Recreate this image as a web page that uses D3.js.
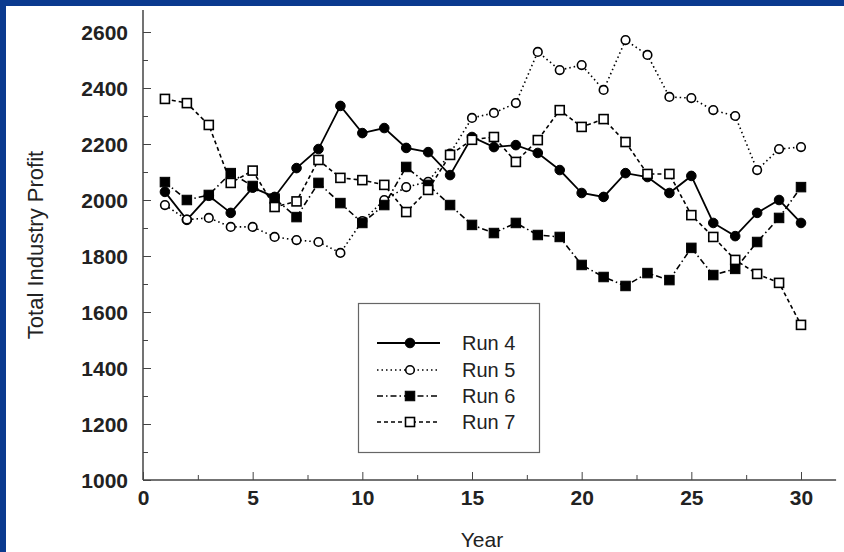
<!DOCTYPE html>
<html>
<head>
<meta charset="utf-8">
<script src="https://cdn.jsdelivr.net/npm/d3@7"></script>
<style>
  html, body { margin: 0; padding: 0; background: #0b3a8f; }
  #chart { width: 844px; height: 552px; }
</style>
</head>
<body>
<div id="chart"></div>
<script>
(function () {
  const years = d3.range(1, 31);
  const run4 = [2029, 1929, 2015, 1954, 2044, 2011, 2114, 2182, 2336, 2239,
                2257, 2186, 2171, 2089, 2225, 2189, 2196, 2168, 2107, 2025,
                2011, 2096, 2082, 2025, 2086, 1918, 1871, 1954, 2000, 1918];
  const run5 = [1982, 1930, 1936, 1904, 1904, 1868, 1857, 1850, 1811, 1925,
                2000, 2046, 2065, 2166, 2293, 2311, 2346, 2529, 2464, 2482,
                2393, 2571, 2518, 2368, 2364, 2321, 2300, 2107, 2182, 2189];
  const run6 = [2064, 2000, 2018, 2096, 2050, 2005, 1939, 2061, 1989, 1918,
                1982, 2118, 2054, 1982, 1911, 1882, 1918, 1875, 1868, 1768,
                1725, 1693, 1739, 1714, 1829, 1732, 1754, 1850, 1936, 2046];
  const run7 = [2361, 2346, 2268, 2061, 2105, 1975, 1995, 2143, 2079, 2071,
                2054, 1957, 2036, 2161, 2215, 2225, 2136, 2214, 2321, 2261,
                2289, 2207, 2093, 2093, 1946, 1868, 1786, 1736, 1704, 1554];
  const seriesNames = ["Run 4", "Run 5", "Run 6", "Run 7"];
  const xTicks = [0, 5, 10, 15, 20, 25, 30];
  const yTicks = [1000, 1200, 1400, 1600, 1800, 2000, 2200, 2400, 2600];

  const W = 844, H = 552;
  const FONT = "'Liberation Sans', Arial, Helvetica, sans-serif";

  const series = [
    { name: seriesNames[0], values: run4, dash: null,        marker: "circle", filled: true },
    { name: seriesNames[1], values: run5, dash: "1.5,3",     marker: "circle", filled: false },
    { name: seriesNames[2], values: run6, dash: "6,3,1.5,3", marker: "square", filled: true },
    { name: seriesNames[3], values: run7, dash: "4,3",       marker: "square", filled: false }
  ];

  const svg = d3.select("#chart").append("svg")
    .attr("width", W).attr("height", H)
    .style("display", "block");

  // white panel inside the blue frame
  svg.append("rect").attr("x", 6).attr("y", 6)
    .attr("width", W - 6).attr("height", H - 6).attr("fill", "#fff");

  const x = d3.scaleLinear().domain([0, 30]).range([143, 801]);
  const y = d3.scaleLinear().domain([1000, 2600]).range([480, 32]);

  const axisColor = "#444";
  const fmt = d3.format("d");

  // y axis
  const gy = svg.append("g").attr("transform", `translate(${x(0)},0)`);
  gy.call(d3.axisLeft(y).tickValues(yTicks).tickFormat(fmt).tickSize(-8).tickPadding(15).tickSizeOuter(0));
  gy.append("g").call(d3.axisLeft(y).tickValues(d3.range(1100, 2700, 200)).tickSize(-5).tickFormat(""));
  gy.selectAll(".domain").remove();
  gy.append("line").attr("y1", y(1000)).attr("y2", y(2679)).attr("stroke", axisColor).attr("stroke-width", 1.5);

  // x axis
  const gx = svg.append("g").attr("transform", `translate(0,${y(1000)})`);
  gx.call(d3.axisBottom(x).tickValues(xTicks).tickFormat(fmt).tickSize(-8).tickPadding(10).tickSizeOuter(0));
  gx.append("g").call(d3.axisBottom(x).tickValues(d3.range(2.5, 31, 5)).tickSize(-5).tickFormat(""));
  gx.selectAll(".domain").remove();
  gx.append("line").attr("x1", x(0)).attr("x2", x(31.6)).attr("stroke", axisColor).attr("stroke-width", 1.5);

  svg.selectAll(".tick line").attr("stroke", axisColor).attr("stroke-width", 1);
  svg.selectAll(".tick text")
    .attr("font-family", FONT).attr("font-size", 21).attr("fill", "#222")
    .style("font-weight", "bold");
  gy.selectAll(".tick text").attr("dy", "0.35em");

  // axis titles
  svg.append("text")
    .attr("transform", `translate(43,245) rotate(-90)`)
    .attr("text-anchor", "middle")
    .attr("font-family", FONT).attr("font-size", 22).attr("fill", "#222")
    .text("Total Industry Profit");
  svg.append("text")
    .attr("x", 482).attr("y", 547)
    .attr("text-anchor", "middle")
    .attr("font-family", FONT).attr("font-size", 21).attr("fill", "#222")
    .text("Year");

  const line = d3.line().x((d, i) => x(years[i])).y(d => y(d));

  function drawMarker(g, type, filled, cx, cy) {
    if (type === "circle") {
      g.append("circle").attr("cx", cx).attr("cy", cy).attr("r", filled ? 4.8 : 4.3)
        .attr("fill", filled ? "#000" : "#fff")
        .attr("stroke", "#000").attr("stroke-width", filled ? 1 : 1.6);
    } else {
      const s = filled ? 9.5 : 9;
      g.append("rect").attr("x", cx - s / 2).attr("y", cy - s / 2)
        .attr("width", s).attr("height", s)
        .attr("fill", filled ? "#000" : "#fff")
        .attr("stroke", "#000").attr("stroke-width", filled ? 1 : 1.6);
    }
  }

  const plot = svg.append("g");
  series.forEach(s => {
    plot.append("path")
      .attr("d", line(s.values))
      .attr("fill", "none").attr("stroke", "#000")
      .attr("stroke-width", s.dash ? 1.6 : 1.8)
      .attr("stroke-dasharray", s.dash);
  });
  series.forEach(s => {
    const g = plot.append("g");
    s.values.forEach((v, i) => drawMarker(g, s.marker, s.filled, x(years[i]), y(v)));
  });

  // legend
  const lg = svg.append("g");
  lg.append("rect").attr("x", 358.5).attr("y", 303.5).attr("width", 181).attr("height", 149)
    .attr("fill", "#fff").attr("stroke", "#666").attr("stroke-width", 1.2);
  const rowY = [343, 370, 396, 422];
  series.forEach((s, i) => {
    lg.append("line").attr("x1", 377).attr("x2", 440).attr("y1", rowY[i]).attr("y2", rowY[i])
      .attr("stroke", "#000").attr("stroke-width", s.dash ? 1.6 : 1.8)
      .attr("stroke-dasharray", s.dash);
    drawMarker(lg, s.marker, s.filled, 410, rowY[i]);
    lg.append("text").attr("x", 462).attr("y", rowY[i]).attr("dy", "0.35em")
      .attr("font-family", FONT).attr("font-size", 20).attr("fill", "#222")
      .text(s.name);
  });
})();
</script>
</body>
</html>
